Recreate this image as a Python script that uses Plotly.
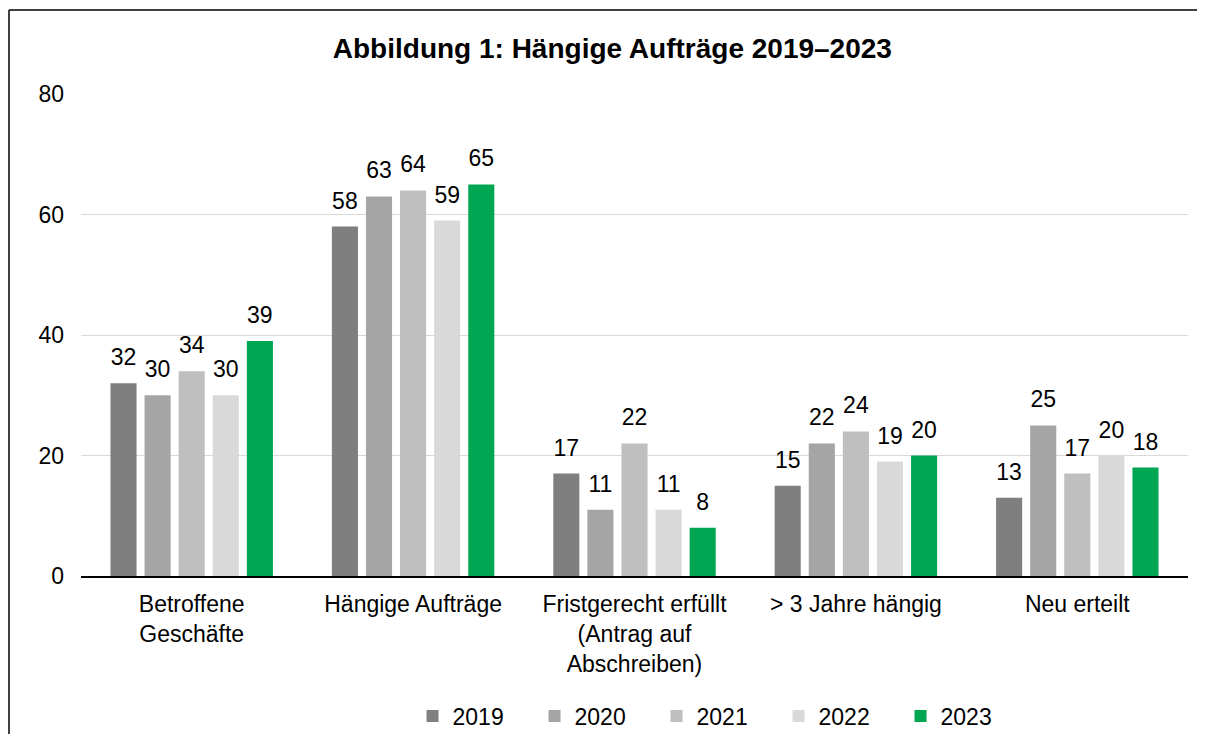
import plotly.graph_objects as go

categories = ["Betroffene<br>Geschäfte", "Hängige Aufträge", "Fristgerecht erfüllt<br>(Antrag auf<br>Abschreiben)", "> 3 Jahre hängig", "Neu erteilt"]
years = ["2019", "2020", "2021", "2022", "2023"]
values = {
    "2019": [32, 58, 17, 15, 13],
    "2020": [30, 63, 11, 22, 25],
    "2021": [34, 64, 22, 24, 17],
    "2022": [30, 59, 11, 19, 20],
    "2023": [39, 65, 8, 20, 18],
}
colors = {"2019": "#7f7f7f", "2020": "#a5a5a5", "2021": "#bfbfbf", "2022": "#d9d9d9", "2023": "#00a651"}
y_ticks = [0, 20, 40, 60, 80]

FONT = "Liberation Sans, Arial"
fig = go.Figure()
for yr in years:
    fig.add_trace(go.Bar(
        name=yr, x=categories, y=values[yr],
        marker=dict(color=colors[yr], line=dict(width=0)),
        hoverinfo="x+y",
    ))
for yr in years:
    fig.add_trace(go.Scatter(
        x=categories, y=values[yr], mode="markers+text",
        marker=dict(size=18, opacity=0),
        text=[str(v) for v in values[yr]], textposition="top center",
        textfont=dict(size=23, color="#000000", family=FONT),
        showlegend=False, hoverinfo="skip", cliponaxis=False,
    ))

fig.update_layout(
    width=1205, height=734,
    margin=dict(l=73, r=25, t=86, b=166, autoexpand=False),
    paper_bgcolor="white", plot_bgcolor="white",
    barmode="group", bargap=0.23, bargroupgap=0.235,
    scattermode="group", scattergap=0.23,
    font=dict(family=FONT, size=23, color="#000000"),
    title=dict(text="<b>Abbildung 1: Hängige Aufträge 2019–2023</b>", x=0.48, xref="paper", xanchor="center",
               y=1 - 40 / 734, yref="container", yanchor="middle", font=dict(size=28)),
    showlegend=True,
    legend=dict(orientation="h", x=0.575, xanchor="center", y=(734 - 708) / 734, yref="container",
                yanchor="middle", font=dict(size=23), entrywidth=77, itemwidth=30, traceorder="normal"),
)
fig.update_yaxes(range=[0, 80], tickvals=y_ticks, showgrid=True, gridcolor="#d9d9d9", gridwidth=1,
                 zeroline=False, showline=False, ticks="", tickfont=dict(size=23), ticklabelstandoff=16,
                 automargin=False)
fig.update_xaxes(showline=True, linecolor="#000000", linewidth=1.5, ticks="", tickfont=dict(size=23),
                 ticklabelstandoff=7, automargin=False)
# outer chart border (left and top edges visible)
fig.add_shape(type="line", xref="paper", yref="paper", x0=(1 - 73) / 1107, x1=(1 - 73) / 1107,
              y0=-0.6, y1=(568 - 2) / 482, line=dict(color="#000000", width=1.5))
fig.add_shape(type="line", xref="paper", yref="paper", x0=(1 - 73) / 1107, x1=1.1,
              y0=(568 - 2) / 482, y1=(568 - 2) / 482, line=dict(color="#000000", width=1.5))
fig.write_html("out.html")
